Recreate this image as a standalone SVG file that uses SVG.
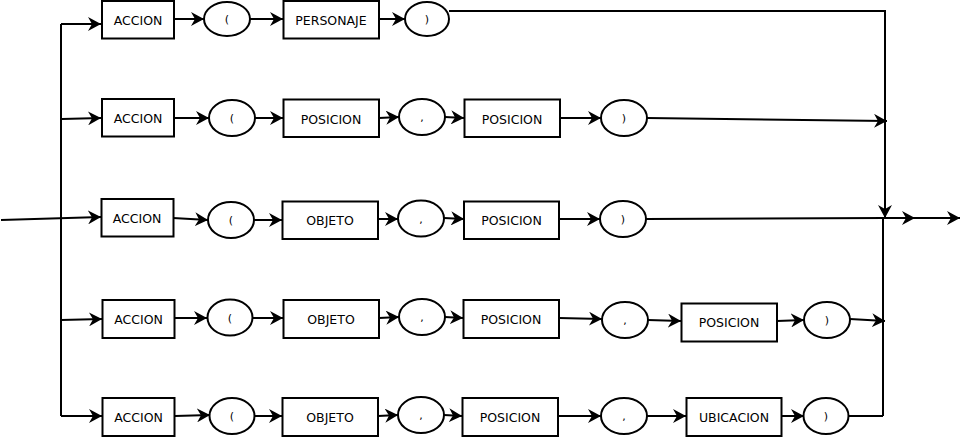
<svg xmlns="http://www.w3.org/2000/svg" width="964" height="438" viewBox="0 0 964 438">
<defs>
<style>
.b{fill:#fff;stroke:#000;stroke-width:2}
.t{font-family:"DejaVu Sans",sans-serif;font-size:12.5px;fill:#000;text-anchor:middle;dominant-baseline:central}
.p{font-family:"DejaVu Sans",sans-serif;font-size:11px;fill:#000;text-anchor:middle;dominant-baseline:central}
.c{fill:none;stroke:#000;stroke-width:2}
.a{marker-end:url(#ah)}
</style>
<marker id="ah" markerUnits="userSpaceOnUse" markerWidth="14" markerHeight="14" viewBox="0 0 14 14" refX="13" refY="7" orient="auto">
<path d="M0,0 L13,7 L0,14 L4,7 z" fill="#000"/>
</marker>
</defs>
<rect width="964" height="438" fill="#fff"/>
<g id="connectors">
<path class="c" d="M61,24 L61,416"/>
<path class="c" d="M885,11 L885,218"/>
<path class="c" d="M883,218 L883,416"/>
<path class="c a" d="M61,24 L101,24"/>
<path class="c a" d="M174,19 L204,19"/>
<path class="c a" d="M250,19 L283,19"/>
<path class="c a" d="M379,19 L405,19"/>
<path class="c a" d="M449,11 L885,11 L885,218"/>
<path class="c a" d="M62,119 L101,118"/>
<path class="c a" d="M174,118 L209,118"/>
<path class="c a" d="M255,118 L283,118"/>
<path class="c a" d="M379,118 L399,117"/>
<path class="c a" d="M445,117 L464,118"/>
<path class="c a" d="M560,118 L601,118"/>
<path class="c a" d="M647,118 L887,121"/>
<path class="c a" d="M1,220 L101,217"/>
<path class="c a" d="M173,218 L208,220"/>
<path class="c a" d="M254,220 L282,220"/>
<path class="c a" d="M378,219 L398,219"/>
<path class="c a" d="M444,218 L464,219"/>
<path class="c a" d="M559,219 L600,219"/>
<path class="c" d="M646,219 L885,218"/>
<path class="c a" d="M885,218 L915,218"/>
<path class="c a" d="M915,218 L960,218"/>
<path class="c a" d="M61,320 L102,319"/>
<path class="c a" d="M175,318 L207,318"/>
<path class="c a" d="M252,318 L283,318"/>
<path class="c a" d="M379,318 L399,317"/>
<path class="c a" d="M445,317 L463,318"/>
<path class="c a" d="M559,318 L602,319"/>
<path class="c a" d="M648,320 L681,321"/>
<path class="c a" d="M777,321 L804,320"/>
<path class="c a" d="M850,319 L885,321"/>
<path class="c a" d="M61,416 L102,416"/>
<path class="c a" d="M175,416 L210,415"/>
<path class="c a" d="M255,416 L282,416"/>
<path class="c a" d="M378,416 L398,415"/>
<path class="c a" d="M444,415 L462,416"/>
<path class="c a" d="M558,416 L601,416"/>
<path class="c a" d="M647,416 L686,416"/>
<path class="c a" d="M781,416 L804,416"/>
<path class="c" d="M849,416 L883,416"/>
</g>
<g id="r1-accion"><rect class="b" x="102" y="1" width="72" height="37.5"/><text class="t" x="138" y="20">ACCION</text></g>
<g id="r1-lp"><ellipse class="b" cx="227" cy="19" rx="23" ry="17"/><text class="p" x="227" y="19">(</text></g>
<g id="r1-personaje"><rect class="b" x="283.5" y="1" width="95.5" height="37.5"/><text class="t" x="331" y="20">PERSONAJE</text></g>
<g id="r1-rp"><ellipse class="b" cx="427" cy="19" rx="22" ry="17"/><text class="p" x="427" y="19">)</text></g>

<g id="r2-accion"><rect class="b" x="102" y="99" width="72" height="37.5"/><text class="t" x="138" y="118">ACCION</text></g>
<g id="r2-lp"><ellipse class="b" cx="232" cy="118" rx="23" ry="18"/><text class="p" x="232" y="118">(</text></g>
<g id="r2-pos1"><rect class="b" x="283.5" y="99.5" width="95.5" height="37.5"/><text class="t" x="331" y="119">POSICION</text></g>
<g id="r2-comma"><ellipse class="b" cx="422" cy="117" rx="23" ry="18"/><text class="p" x="422" y="117">,</text></g>
<g id="r2-pos2"><rect class="b" x="464.5" y="99.5" width="95.5" height="37.5"/><text class="t" x="512" y="119">POSICION</text></g>
<g id="r2-rp"><ellipse class="b" cx="624" cy="118" rx="23" ry="18"/><text class="p" x="624" y="118">)</text></g>

<g id="r3-accion"><rect class="b" x="101.5" y="199" width="72" height="37.5"/><text class="t" x="137" y="218">ACCION</text></g>
<g id="r3-lp"><ellipse class="b" cx="231" cy="220" rx="23" ry="18"/><text class="p" x="231" y="220">(</text></g>
<g id="r3-objeto"><rect class="b" x="282.5" y="201.5" width="95.5" height="37.5"/><text class="t" x="330" y="220">OBJETO</text></g>
<g id="r3-comma"><ellipse class="b" cx="421" cy="218.5" rx="23" ry="18"/><text class="p" x="421" y="219">,</text></g>
<g id="r3-pos"><rect class="b" x="464" y="201.5" width="95" height="37.5"/><text class="t" x="511.5" y="220">POSICION</text></g>
<g id="r3-rp"><ellipse class="b" cx="623" cy="219" rx="23" ry="18"/><text class="p" x="623" y="219">)</text></g>

<g id="r4-accion"><rect class="b" x="102.5" y="300" width="72" height="38"/><text class="t" x="138.5" y="319">ACCION</text></g>
<g id="r4-lp"><ellipse class="b" cx="230" cy="317.5" rx="22.5" ry="18"/><text class="p" x="230" y="318">(</text></g>
<g id="r4-objeto"><rect class="b" x="283.5" y="300" width="95.5" height="38"/><text class="t" x="331" y="319">OBJETO</text></g>
<g id="r4-comma1"><ellipse class="b" cx="422" cy="317" rx="23" ry="18"/><text class="p" x="422" y="317">,</text></g>
<g id="r4-pos1"><rect class="b" x="463.5" y="300" width="95.5" height="38"/><text class="t" x="511" y="319">POSICION</text></g>
<g id="r4-comma2"><ellipse class="b" cx="625" cy="320" rx="23" ry="18"/><text class="p" x="625" y="320">,</text></g>
<g id="r4-pos2"><rect class="b" x="681.5" y="303.5" width="95.5" height="38"/><text class="t" x="729" y="322">POSICION</text></g>
<g id="r4-rp"><ellipse class="b" cx="827" cy="320" rx="23" ry="18"/><text class="p" x="827" y="320">)</text></g>

<g id="r5-accion"><rect class="b" x="102.5" y="398" width="72" height="38"/><text class="t" x="138.5" y="417">ACCION</text></g>
<g id="r5-lp"><ellipse class="b" cx="232" cy="416" rx="22.5" ry="18"/><text class="p" x="232" y="416">(</text></g>
<g id="r5-objeto"><rect class="b" x="282.5" y="398" width="95.5" height="38"/><text class="t" x="330" y="417">OBJETO</text></g>
<g id="r5-comma1"><ellipse class="b" cx="421" cy="415" rx="23" ry="18"/><text class="p" x="421" y="415">,</text></g>
<g id="r5-pos"><rect class="b" x="462.5" y="398" width="95.5" height="38"/><text class="t" x="510" y="417">POSICION</text></g>
<g id="r5-comma2"><ellipse class="b" cx="624" cy="416" rx="23" ry="18"/><text class="p" x="624" y="416">,</text></g>
<g id="r5-ubicacion"><rect class="b" x="686.5" y="398" width="95" height="38"/><text class="t" x="734" y="417">UBICACION</text></g>
<g id="r5-rp"><ellipse class="b" cx="826" cy="416" rx="22.5" ry="18"/><text class="p" x="826" y="416">)</text></g>
</svg>
